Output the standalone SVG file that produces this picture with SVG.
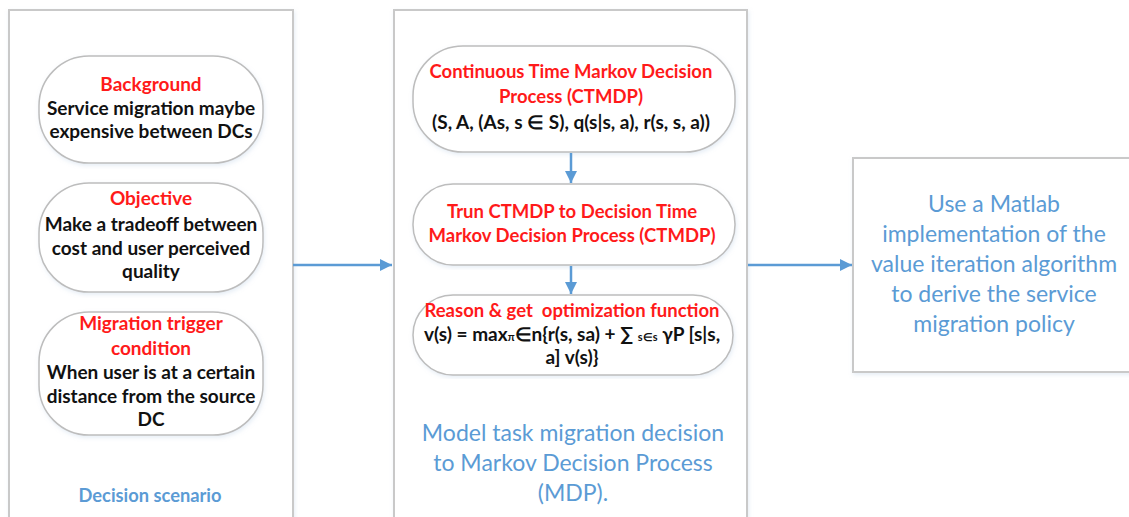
<svg xmlns="http://www.w3.org/2000/svg" width="1129" height="517" viewBox="0 0 1129 517">
  <defs>
    <marker id="arrow" viewBox="0 0 10 10" refX="10" refY="5" markerWidth="5" markerHeight="5" orient="auto" markerUnits="strokeWidth">
      <path d="M0,0 L10,5 L0,10 z" fill="#5b9bd5"/>
    </marker>
    <filter id="soft" x="-5%" y="-5%" width="110%" height="110%">
      <feDropShadow dx="1" dy="2" stdDeviation="2" flood-color="#9bb8d8" flood-opacity="0.25"/>
    </filter>
  </defs>
  <style>
    .panel { fill: #ffffff; stroke: #c9c9c9; stroke-width: 2; filter: url(#soft); }
    .pill { fill: #ffffff; stroke: #bdbdbd; stroke-width: 1.5; filter: url(#soft); }
    .t { font-family: Lato, "Open Sans", "Liberation Sans", sans-serif; font-weight: bold; font-size: 19px; text-anchor: middle; }
    .red { fill: #ff1a1a; }
    .blk { fill: #111111; }
    .m { font-size: 18.5px; }
    .f { font-size: 19px; }
    .cap { font-size: 18.3px; }
    .blue { fill: #5b9bd5; font-family: Lato, "Open Sans", "Liberation Sans", sans-serif; text-anchor: middle; }
    .big { font-size: 23px; }
    .sub { font-size: 11px; }
    .conn { stroke: #5b9bd5; stroke-width: 2.5; fill: none; marker-end: url(#arrow); }
  </style>

  <!-- Left panel: decision scenario -->
  <g id="scenario">
    <rect class="panel" x="9" y="10" width="284" height="530"/>
    <text class="t blue cap" x="150" y="502">Decision scenario</text>
  </g>

  <g id="background">
    <rect class="pill" x="39" y="56" width="224" height="107" rx="50"/>
    <text class="t red" x="151" y="91">Background</text>
    <text class="t blk" x="151" y="115">Service migration maybe</text>
    <text class="t blk" x="151" y="138">expensive between DCs</text>
  </g>

  <g id="objective">
    <rect class="pill" x="39" y="183" width="224" height="109" rx="50"/>
    <text class="t red" x="151" y="205">Objective</text>
    <text class="t blk" x="151" y="231">Make a tradeoff between</text>
    <text class="t blk" x="151" y="255">cost and user perceived</text>
    <text class="t blk" x="151" y="278">quality</text>
  </g>

  <g id="trigger">
    <rect class="pill" x="39" y="312" width="224" height="123" rx="50"/>
    <text class="t red" x="151" y="330">Migration trigger</text>
    <text class="t red" x="151" y="355">condition</text>
    <text class="t blk" x="151" y="379">When user is at a certain</text>
    <text class="t blk" x="151" y="403">distance from the source</text>
    <text class="t blk" x="151" y="426">DC</text>
  </g>

  <!-- Middle panel: MDP modelling -->
  <g id="mdp">
    <rect class="panel" x="394" y="10" width="353" height="530"/>
    <text class="blue big" x="573" y="441">Model task migration decision</text>
    <text class="blue big" x="573" y="471">to Markov Decision Process</text>
    <text class="blue big" x="573" y="501">(MDP).</text>
  </g>

  <g id="ctmdp">
    <rect class="pill" x="413" y="46" width="322" height="106" rx="50"/>
    <text class="t red m" x="571" y="78">Continuous Time Markov Decision</text>
    <text class="t red m" x="571" y="103">Process (CTMDP)</text>
    <text class="t blk f" x="571" y="129">(S, A, (As, s ∈ S), q(s|s, a), r(s, s, a))</text>
  </g>

  <g id="dtmdp">
    <rect class="pill" x="413" y="184" width="322" height="81" rx="40"/>
    <text class="t red m" x="572" y="218">Trun CTMDP to Decision Time</text>
    <text class="t red m" x="572" y="242">Markov Decision Process (CTMDP)</text>
  </g>

  <g id="optimization">
    <rect class="pill" x="413" y="295" width="320" height="80" rx="40"/>
    <text class="t red m" x="572" y="317" xml:space="preserve">Reason &amp; get  optimization function</text>
    <text class="t blk f" x="572" y="341">v(s) = max<tspan class="sub">π</tspan>∈n{r(s, sa) + ∑ <tspan class="sub">s∈s</tspan> γP [s|s,</text>
    <text class="t blk f" x="572" y="364">a] v(s)}</text>
  </g>

  <!-- Right box: solution -->
  <g id="solution">
    <rect class="panel" x="853" y="158" width="290" height="214"/>
    <text class="blue big" x="994" y="212">Use a Matlab</text>
    <text class="blue big" x="994" y="242">implementation of the</text>
    <text class="blue big" x="994" y="272">value iteration algorithm</text>
    <text class="blue big" x="994" y="302">to derive the service</text>
    <text class="blue big" x="994" y="332">migration policy</text>
  </g>

  <!-- Connectors -->
  <g id="connectors">
    <line class="conn" x1="293" y1="265" x2="392" y2="265"/>
    <line class="conn" x1="748" y1="265" x2="852" y2="265"/>
    <line class="conn" x1="571" y1="153" x2="571" y2="183"/>
    <line class="conn" x1="571" y1="266" x2="571" y2="294"/>
  </g>
</svg>
